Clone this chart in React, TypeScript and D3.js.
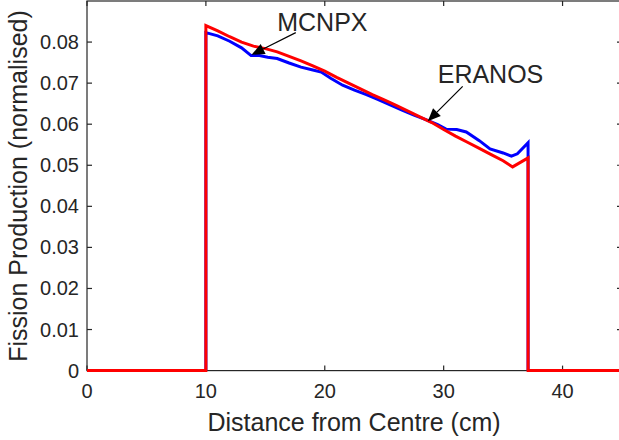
import React from "react";
import * as d3 from "d3";

const xTicks = [0, 10, 20, 30, 40];
const yTicks = [0, 0.01, 0.02, 0.03, 0.04, 0.05, 0.06, 0.07, 0.08];
const yTickLabels = ["0", "0.01", "0.02", "0.03", "0.04", "0.05", "0.06", "0.07", "0.08"];

// ERANOS (red)
const eranosX = [0, 10, 10, 11, 12, 13, 14, 15, 16, 17, 18, 19, 20, 21, 22, 23, 24, 25, 26, 27, 28, 29, 30, 31, 32, 33, 34, 35, 35.8, 37.1, 37.1, 45];
const eranosY = [0, 0, 0.0840, 0.0827, 0.0813, 0.0800, 0.0790, 0.0784, 0.0776, 0.0765, 0.0754, 0.0742, 0.0729, 0.0714, 0.0700, 0.0686, 0.0672, 0.0659, 0.0646, 0.0632, 0.0618, 0.0604, 0.0587, 0.0571, 0.0556, 0.0541, 0.0526, 0.0511, 0.0496, 0.0518, 0, 0];

// MCNPX (blue)
const mcnpxX = [10, 10, 11, 12, 13, 13.8, 14.5, 15.2, 16, 17, 18, 19, 19.7, 20.5, 21.5, 22.5, 23.5, 24.5, 25.5, 26.5, 27.5, 28.5, 29.5, 30.2, 31.1, 31.9, 33, 33.9, 35, 35.7, 36.2, 37.1, 37.1];
const mcnpxY = [0, 0.0823, 0.0815, 0.0802, 0.0786, 0.0767, 0.0767, 0.0763, 0.0760, 0.0749, 0.0739, 0.0732, 0.0727, 0.0712, 0.0695, 0.0683, 0.0672, 0.0660, 0.0647, 0.0634, 0.0622, 0.0611, 0.0599, 0.0588, 0.0587, 0.0581, 0.0560, 0.0540, 0.0530, 0.0522, 0.0528, 0.0555, 0];

const annotations = [
  { label: "MCNPX", textX: 16.0, textY: 0.0828, tailX: 17.56, tailY: 0.0823, tipX: 13.84, tipY: 0.0769 },
  { label: "ERANOS", textX: 29.5, textY: 0.0700, tailX: 31.6, tailY: 0.0692, tipX: 28.66, tipY: 0.0607 },
];

const W = 619;
const H = 440;
const FONT = "'Liberation Sans', Arial, Helvetica, sans-serif";
const AX = "#262626";

export default function App() {
  const x = d3.scaleLinear().domain([0, 45]).range([87, 622]);
  const y = d3.scaleLinear().domain([0, 0.09]).range([370.6, 1]);
  const line = d3.line<[number, number]>().x((d) => x(d[0])).y((d) => y(d[1]));
  const red = line(eranosX.map((v, i) => [v, eranosY[i]] as [number, number]));
  const blue = line(mcnpxX.map((v, i) => [v, mcnpxY[i]] as [number, number]));
  const x0 = x(0), x1 = x(45), y0 = y(0), y1 = y(0.09);
  const tl = 5;

  return (
    <svg width={W} height={H} style={{ position: "absolute", left: 0, top: 0, background: "#fff" }} fontFamily={FONT}>
      <rect x={0} y={0} width={W} height={H} fill="#fff" />
      {/* axes box */}
      <rect x={x0} y={y1} width={x1 - x0} height={y0 - y1} fill="none" stroke={AX} strokeWidth={1.2} />
      {xTicks.map((t) => (
        <g key={"xt" + t}>
          <line x1={x(t)} x2={x(t)} y1={y0} y2={y0 - tl} stroke={AX} strokeWidth={1.2} />
          <line x1={x(t)} x2={x(t)} y1={y1} y2={y1 + tl} stroke={AX} strokeWidth={1.2} />
          <text x={x(t)} y={398} fontSize={20} textAnchor="middle" fill={AX}>{t}</text>
        </g>
      ))}
      {yTicks.map((t, i) => (
        <g key={"yt" + t}>
          <line x1={x0} x2={x0 + tl} y1={y(t)} y2={y(t)} stroke={AX} strokeWidth={1.2} />
          <line x1={x1} x2={x1 - tl} y1={y(t)} y2={y(t)} stroke={AX} strokeWidth={1.2} />
          <text x={79} y={y(t) + 7} fontSize={20} textAnchor="end" fill={AX}>{yTickLabels[i]}</text>
        </g>
      ))}
      <text x={354} y={431} fontSize={25} textAnchor="middle" fill={AX}>Distance from Centre (cm)</text>
      <text transform={`translate(27,186) rotate(-90)`} fontSize={25} textAnchor="middle" fill={AX}>Fission Production (normalised)</text>

      <path d={blue || ""} fill="none" stroke="#0000ff" strokeWidth={3} strokeLinejoin="miter" />
      <path d={red || ""} fill="none" stroke="#ff0000" strokeWidth={3} strokeLinejoin="miter" />

      {annotations.map((a) => {
        const tx = x(a.tipX), ty = y(a.tipY), sx = x(a.tailX), sy = y(a.tailY);
        const ang = Math.atan2(ty - sy, tx - sx);
        const L = 13, Wd = 5.5;
        const bx = tx - L * Math.cos(ang), by = ty - L * Math.sin(ang);
        const px = -Math.sin(ang) * Wd, py = Math.cos(ang) * Wd;
        return (
          <g key={a.label}>
            <line x1={sx} y1={sy} x2={bx} y2={by} stroke="#000" strokeWidth={1.2} />
            <polygon points={`${tx},${ty} ${bx + px},${by + py} ${bx - px},${by - py}`} fill="#000" />
            <text x={x(a.textX)} y={y(a.textY)} fontSize={25} fill={AX}>{a.label}</text>
          </g>
        );
      })}
    </svg>
  );
}
